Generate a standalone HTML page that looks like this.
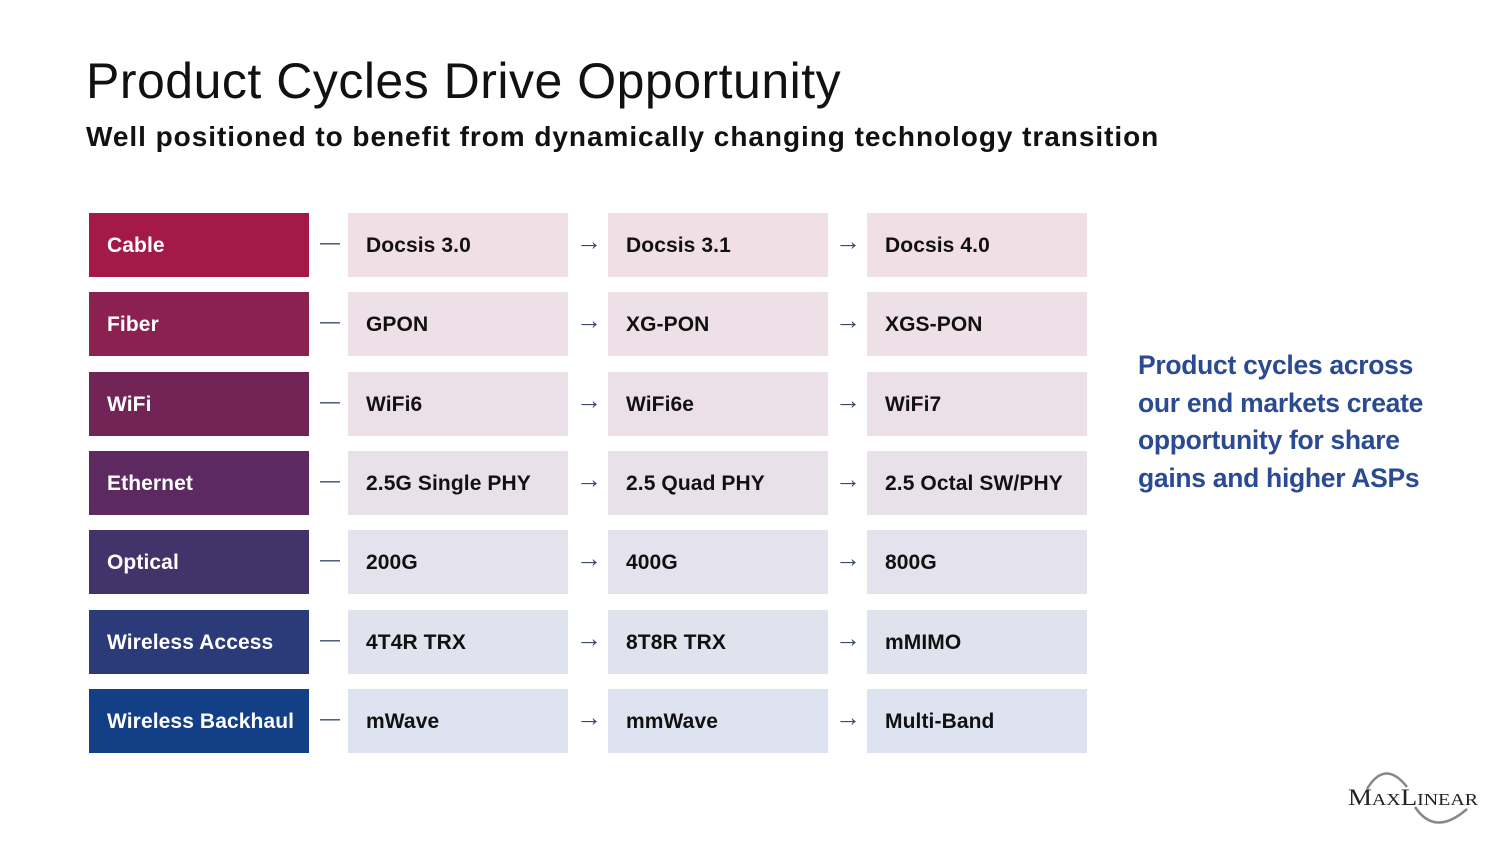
<!DOCTYPE html>
<html><head><style>
body{margin:0;width:1500px;height:844px;background:#fff;font-family:"Liberation Sans",sans-serif;position:relative;overflow:hidden}
.t{position:absolute;left:86px;top:52px;font-size:50px;color:#111;letter-spacing:0.5px}
.s{position:absolute;left:86px;top:121px;font-size:28px;font-weight:bold;color:#111;letter-spacing:0.95px}
.b{position:absolute;height:64px;width:220px;box-sizing:border-box;padding-left:18px;line-height:66px;font-size:21px;font-weight:bold;white-space:nowrap;letter-spacing:0.1px}
.l{color:#fff}
.g{color:#111}
.d{position:absolute;font-size:26px;color:#3a4a70;line-height:64px}
.side{position:absolute;left:1138px;top:347px;font-size:26.5px;font-weight:bold;color:#2a4a92;line-height:37.5px;letter-spacing:-0.3px}
</style></head><body>
<div class="t">Product Cycles Drive Opportunity</div>
<div class="s">Well positioned to benefit from dynamically changing technology transition</div>
<div id="g"></div>
<div class="side">Product cycles across<br>our end markets create<br>opportunity for share<br>gains and higher ASPs</div>
<svg style="position:absolute;left:1345px;top:765px" width="140" height="65">
<path d="M22 24 Q40 -6 62 22" stroke="#888" stroke-width="2.5" fill="none"/>
<path d="M70 42 Q90 72 122 44" stroke="#888" stroke-width="2.5" fill="none"/>
<text x="3" y="40" font-family="Liberation Serif,serif" font-size="23" fill="#222" textLength="130" lengthAdjust="spacingAndGlyphs">M<tspan font-size="17">AX</tspan>L<tspan font-size="17">INEAR</tspan></text>
</svg>
<script>
var rows=[["Cable","#a31a48","#f0dfe5","Docsis 3.0","Docsis 3.1","Docsis 4.0"],
["Fiber","#8b2150","#eee0e7","GPON","XG-PON","XGS-PON"],
["WiFi","#722456","#ebe0e8","WiFi6","WiFi6e","WiFi7"],
["Ethernet","#5c2a60","#e8e1ea","2.5G Single PHY","2.5 Quad PHY","2.5 Octal SW/PHY"],
["Optical","#44336a","#e4e2ec","200G","400G","800G"],
["Wireless Access","#2b3a78","#e0e3ee","4T4R TRX","8T8R TRX","mMIMO"],
["Wireless Backhaul","#123f86","#dde3f0","mWave","mmWave","Multi-Band"]];
var h="";
rows.forEach(function(r,i){var y=213+i*79.3;
h+='<div class="b l" style="left:89px;top:'+y+'px;background:'+r[1]+'">'+r[0]+'</div>';
h+='<div class="d" style="left:320px;top:'+(y-2)+'px;font-size:20px">—</div>';
[348,608,867].forEach(function(x,j){h+='<div class="b g" style="left:'+x+'px;top:'+y+'px;background:'+r[2]+'">'+r[3+j]+'</div>';});
h+='<div class="d" style="left:576px;top:'+(y-4)+'px">→</div><div class="d" style="left:835px;top:'+(y-4)+'px">→</div>';
});
document.getElementById("g").innerHTML=h;
</script>
</body></html>
